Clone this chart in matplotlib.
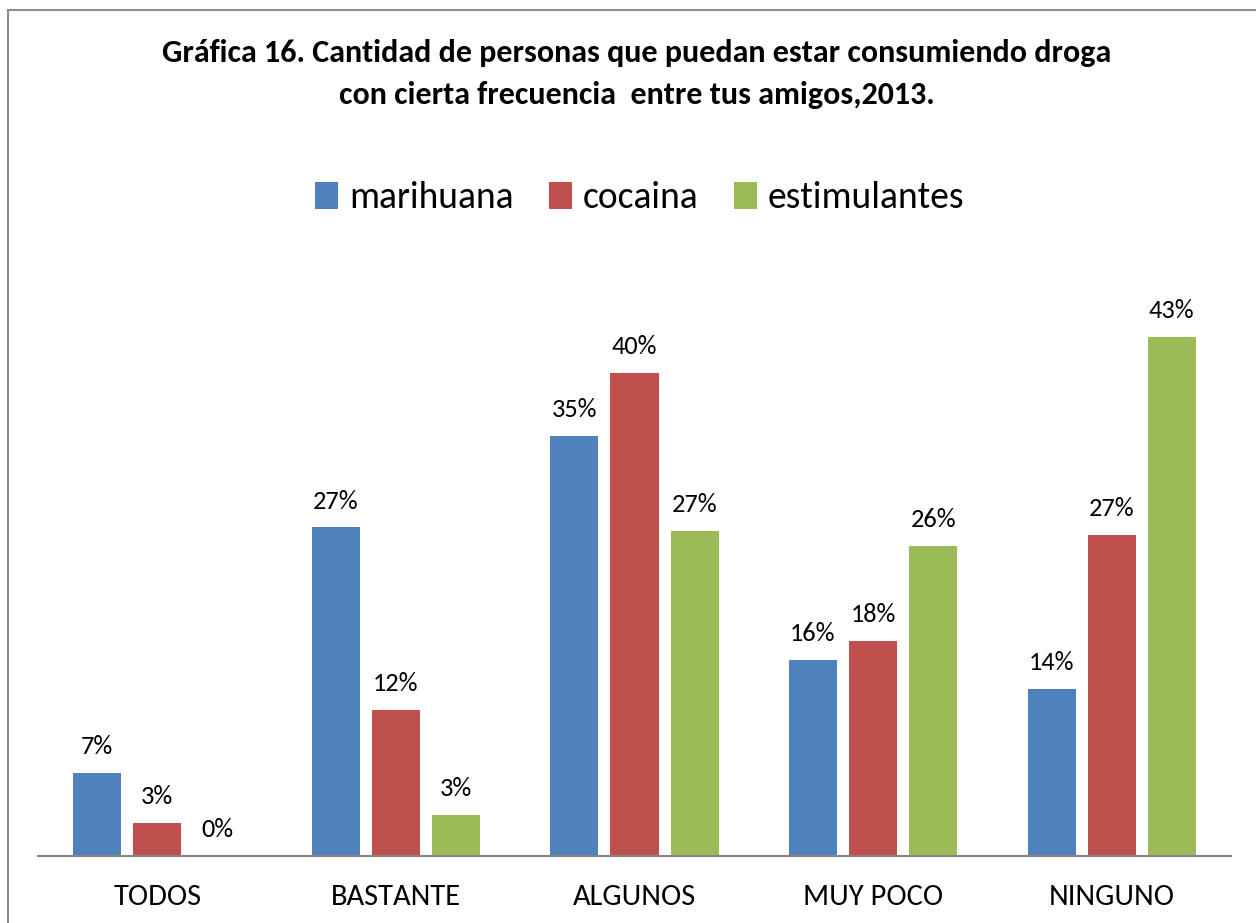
import numpy as np
import matplotlib
matplotlib.use('Agg')
import matplotlib.pyplot as plt
from matplotlib.patches import Rectangle

plt.rcParams['font.family'] = ['Carlito', 'Lato', 'DejaVu Sans']

CATEGORIAS = ['TODOS', 'BASTANTE', 'ALGUNOS', 'MUY POCO', 'NINGUNO']
SERIES = ['marihuana', 'cocaina', 'estimulantes']
marihuana = [6.9, 27.2, 34.8, 16.2, 13.8]
cocaina = [2.7, 12.1, 40.0, 17.8, 26.6]
estimulantes = [0.0, 3.4, 26.9, 25.7, 43.0]
COLORES = ['#4F81BD', '#C0504D', '#9BBB59']

TITULO = ('Gráfica 16. Cantidad de personas que puedan estar consumiendo droga\n'
          'con cierta frecuencia  entre tus amigos,2013.')

fig = plt.figure(figsize=(12.56, 9.23), dpi=100)
fig.patch.set_facecolor('white')

# marco del gráfico
fig.add_artist(Rectangle((8 / 1256, -0.01), 1.1, (923 - 10) / 923 + 0.01,
                         transform=fig.transFigure, fill=False,
                         ec='#8C8C8C', lw=1.5))

ax = fig.add_axes([38 / 1256, 67 / 923, 1193 / 1256, 604 / 923])
ind = np.arange(len(CATEGORIAS))
ancho = 0.2017
paso = 0.252

for i, (nombre, valores) in enumerate(zip(SERIES, [marihuana, cocaina, estimulantes])):
    rects = ax.bar(ind + (i - 1) * paso, valores, ancho, color=COLORES[i],
                   label=nombre, zorder=2)
    for r, v in zip(rects, valores):
        ax.annotate('%.0f%%' % v, (r.get_x() + r.get_width() / 2, v),
                    xytext=(0, 19), textcoords='offset points',
                    ha='center', va='center', fontsize=19)

ax.set_xlim(-0.5, len(CATEGORIAS) - 0.5)
ax.set_ylim(0, 50)
ax.set_xticks(ind)
ax.set_xticklabels(CATEGORIAS, fontsize=22)
ax.tick_params(axis='x', length=0, pad=20)
ax.set_yticks([])
for lado in ['top', 'left', 'right']:
    ax.spines[lado].set_visible(False)
ax.spines['bottom'].set_color('#868686')
ax.spines['bottom'].set_linewidth(1.5)
ax.spines['bottom'].set_zorder(3)

fig.text(637 / 1256, 1 - 74 / 923, TITULO, ha='center', va='center',
         fontsize=23, fontweight='bold', linespacing=1.6)

fig.legend(loc='center', bbox_to_anchor=(640 / 1256, 1 - 198 / 923),
           ncol=3, frameon=False, fontsize=27, handlelength=0.6,
           handleheight=0.7, handletextpad=0.3, columnspacing=0.95)

fig.savefig('out.png', dpi=100)
